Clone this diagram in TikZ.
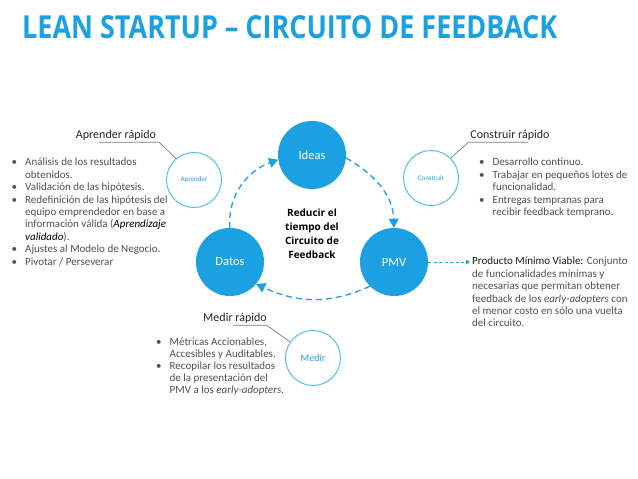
\documentclass[tikz,border=0pt]{standalone}
\usepackage{graphicx}
\usepackage{fontspec}
\setmainfont{Carlito}
\newfontfamily\titlefont{Open Sans}
\usetikzlibrary{positioning,arrows.meta}

\definecolor{loopblue}{RGB}{27,161,226}
\definecolor{ringblue}{RGB}{85,190,235}
\definecolor{bodygray}{RGB}{80,80,80}
\definecolor{leadgray}{RGB}{125,125,125}

\newcommand{\blt}{\makebox[13.5pt][l]{\textbullet}}
\newcommand{\ind}{\hspace*{13.5pt}}

\begin{document}
\begin{tikzpicture}[x=1pt,y=1pt,
    stage/.style={circle, fill=loopblue, minimum size=68pt, inner sep=0pt, text=white, font=\fontsize{12.5}{14}\selectfont},
    ring/.style={circle, draw=ringblue, line width=1pt, fill=white, minimum size=55pt, inner sep=0pt, text=loopblue, font=\fontsize{7}{8}\selectfont},
    loop/.style={loopblue, line width=1.3pt, dash pattern=on 6pt off 4pt, -{Triangle[length=9pt,width=10pt]}},
    lead/.style={leadgray, line width=0.7pt},
    heading/.style={font=\fontsize{12}{14}\selectfont, text=black!85, inner sep=0pt},
    block/.style={align=left, anchor=north west, inner sep=0pt, text=bodygray, font=\fontsize{11}{12.4}\selectfont}
]
\useasboundingbox (0,0) rectangle (638,479);

% title
\node[anchor=base west, inner sep=0pt, text=loopblue, font=\titlefont\bfseries\fontsize{28}{30}\selectfont] (title) at (22,440)
    {\resizebox{535pt}{23pt}{LEAN STARTUP – CIRCUITO DE FEEDBACK}};

% feedback loop
\node[stage] (ideas) at (312,324) {Ideas};
\node[stage] (datos) at (230,217) {Datos};
\node[stage] (pmv) at (394,217) {PMV};
\node[align=center, font=\titlefont\bfseries\fontsize{10}{14}\selectfont] (goal) at (312,245) {Reducir el\\tiempo del\\Circuito de\\Feedback};

\draw[loop] (datos.north) to[out=95,in=200] (ideas.188);
\draw[loop] (ideas.-5) to[out=-30,in=92] (pmv.north);
\draw[loop] (pmv.-135) to[out=-155,in=-25] (datos.-40);

% small rings with their labels
\node[ring] (aprender) at (194,299) {Aprender};
\node[ring] (construir) at (431,301) {Construir};
\node[ring, font=\fontsize{10}{12}\selectfont] (medir) at (313,121) {Medir};

\node[heading] (aprh) at (116,344) {Aprender rápido};
\node[heading] (consh) at (510,344) {Construir rápido};
\node[heading] (medh) at (235,161) {Medir rápido};

\draw[lead] ([xshift=23pt,yshift=-2pt]aprh.south west) -- ([xshift=3pt,yshift=-2pt]aprh.south east) -- (aprender.130);
\draw[lead] ([xshift=-22pt,yshift=-2pt]consh.south east) -- ([xshift=-2pt,yshift=-2pt]consh.south west) -- (construir.45);
\draw[lead] ([xshift=30pt,yshift=-2pt]medh.south west) -- ([yshift=-2pt]medh.south east) -- (medir.145);

% texts
\node[block] (aprtxt) at (11.5,321) {\blt Análisis de los resultados\\
    \ind obtenidos.\\
    \blt Validación de las hipótesis.\\
    \blt Redefinición de las hipótesis del\\
    \ind equipo emprendedor en base a\\
    \ind información válida (\textcolor{black}{\textit{Aprendizaje}}\\
    \ind \textcolor{black}{\textit{validado}}).\\
    \blt Ajustes al Modelo de Negocio.\\
    \blt Pivotar / Perseverar};

\node[block] (constxt) at (479,321) {\blt Desarrollo continuo.\\
    \blt Trabajar en pequeños lotes de\\
    \ind funcionalidad.\\
    \blt Entregas tempranas para\\
    \ind recibir feedback temprano.};

\node[block, font=\fontsize{11}{12}\selectfont] (medtxt) at (156,141) {\blt Métricas Accionables,\\
    \ind Accesibles y Auditables.\\
    \blt Recopilar los resultados\\
    \ind de la presentación del\\
    \ind PMV a los \textit{early-adopters}.};

\node[block] (pmvtxt) at (472,222) {\textcolor{black!90}{Producto Mínimo Viable:} Conjunto\\
    de funcionalidades mínimas y\\
    necesarias que permitan obtener\\
    feedback de los \textit{early-adopters} con\\
    el menor costo en sólo una vuelta\\
    del circuito.};

\coordinate (pmvtip) at (470,217);
\draw[loopblue, line width=0.8pt, dash pattern=on 3pt off 2.5pt, -{Triangle[length=4pt,width=4.5pt]}] (pmv.east) -- (pmvtip);
\end{tikzpicture}
\end{document}
